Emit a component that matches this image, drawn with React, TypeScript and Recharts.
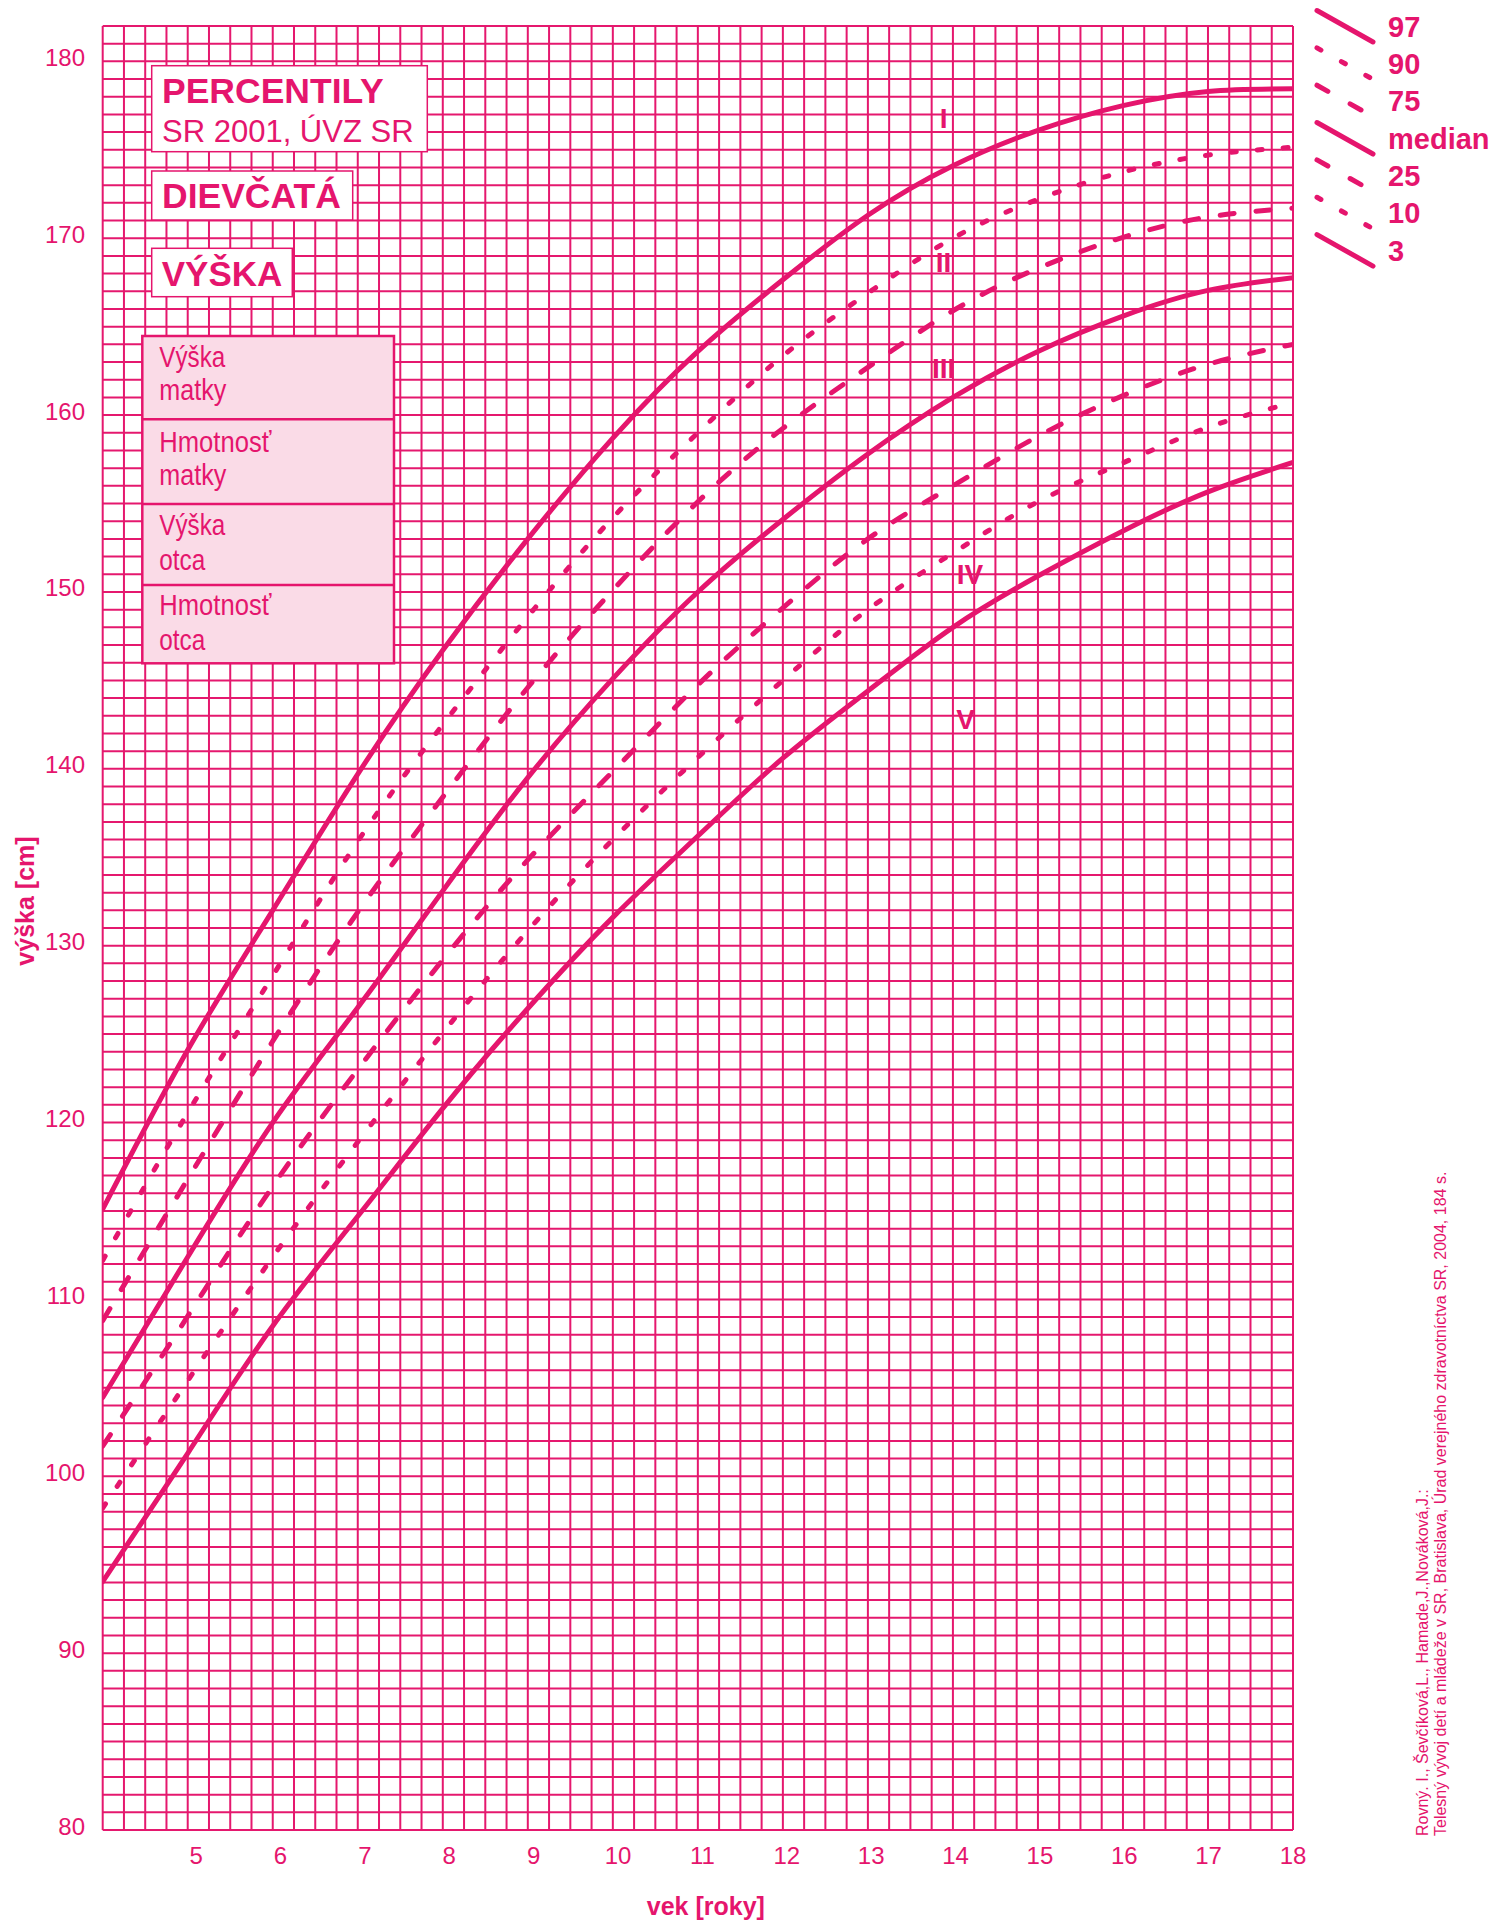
import React from 'react'
import {
  LineChart,
  Line,
  XAxis,
  YAxis,
  CartesianGrid,
  Legend,
  ReferenceDot,
} from 'recharts'

const PINK = '#e5156d'
const GRID_PINK = '#e5186e'
const TABLE_FILL = '#fadbe7'
const FONT = '"Liberation Sans", Arial, sans-serif'

// age in years
const AGES = [4, 5, 6, 7, 8, 9, 10, 11, 12, 13, 14, 15, 16, 17, 18]
// height in cm
const P97 = [115.1, 124.1, 132.0, 139.7, 146.7, 153.0, 158.7, 163.6, 167.65, 171.3, 174.1, 176.1, 177.5, 178.3, 178.45]
const P90 = [112.2, 120.55, 128.3, 135.9, 142.5, 148.6, 154.2, 159.0, 163.35, 166.9, 170.0, 172.2, 173.75, 174.7, 175.15]
const P75 = [108.8, 116.8, 124.6, 131.9, 138.4, 144.6, 150.1, 155.1, 159.25, 162.7, 165.9, 168.3, 170.05, 171.2, 171.7]
const P50 = [104.45, 112.4, 120.0, 126.5, 133.1, 139.5, 145.1, 150.0, 154.1, 157.8, 161.0, 163.6, 165.6, 167.05, 167.77]
const P25 = [101.7, 109.05, 116.4, 123.0, 129.2, 134.85, 139.85, 144.75, 149.1, 153.0, 156.0, 158.8, 161.1, 162.87, 164.0]
const P10 = [98.2, 105.4, 112.4, 118.9, 125.06, 130.85, 136.0, 140.65, 145.0, 149.0, 152.2, 155.1, 157.3, 159.3, 160.7]
const P3 = [94.04, 101.3, 108.5, 114.7, 120.8, 126.45, 131.6, 136.2, 140.6, 144.4, 148.0, 150.9, 153.45, 155.66, 157.32]

const X_TICKS = [5, 6, 7, 8, 9, 10, 11, 12, 13, 14, 15, 16, 17, 18]
const Y_TICKS = [80, 90, 100, 110, 120, 130, 140, 150, 160, 170, 180]

// roman numerals for the channels between the curves
const ROMAN = ['I', 'II', 'III', 'IV', 'V']
const ROMAN_AGE = [13.89, 13.89, 13.89, 14.2, 14.15]
const ROMAN_CM = [176.75, 168.65, 162.65, 151.0, 142.8]

// parents' table: row texts and the width each is set to
const TABLE_LINES = ['Výška', 'matky', 'Hmotnosť', 'matky', 'Výška', 'otca', 'Hmotnosť', 'otca']
const TABLE_WIDTHS = [66, 67, 112, 67, 66, 46, 112, 46]
const TABLE_BASELINES = [366.7, 400, 451.7, 485, 535, 570, 615, 650]

// fine grid: every 3 months and every centimetre
const GRID_AGE = Array.from({ length: 57 }, (_, i) => 4 + i * 0.25)
const GRID_CM = Array.from({ length: 103 }, (_, i) => 80 + i)

const DASHED = '14 22'
const DOTTED = '5 21'

const SERIES = [
  { key: 'p97', label: '97', dash: undefined, legendDash: undefined },
  { key: 'p90', label: '90', dash: DOTTED, legendDash: '4.5 23.5' },
  { key: 'p75', label: '75', dash: DASHED, legendDash: '12.5 25.5' },
  { key: 'p50', label: 'median', dash: undefined, legendDash: undefined },
  { key: 'p25', label: '25', dash: DASHED, legendDash: '12.5 25.5' },
  { key: 'p10', label: '10', dash: DOTTED, legendDash: '4.5 23.5' },
  { key: 'p3', label: '3', dash: undefined, legendDash: undefined },
]

const data = AGES.map((age, i) => ({
  age,
  p97: P97[i],
  p90: P90[i],
  p75: P75[i],
  p50: P50[i],
  p25: P25[i],
  p10: P10[i],
  p3: P3[i],
}))

const XTick = ({ x, y, payload }: any) => (
  <text
    x={x + (18 - payload.value) * 0.65}
    y={y + 25}
    textAnchor="middle"
    dominantBaseline="central"
    fill={PINK}
    fontSize={24}
    fontFamily={FONT}
  >
    {payload.value}
  </text>
)

const YTick = ({ x, y, payload }: any) => (
  <text x={x - 17.7} y={y - 4} textAnchor="end" dominantBaseline="central" fill={PINK} fontSize={24} fontFamily={FONT}>
    {payload.value}
  </text>
)

const PercentileLegend = () => (
  <svg width={191} height={275}>
    {SERIES.map((s, i) => {
      const cy = 26.5 + i * 37.35
      return (
        <g key={s.key}>
          <line
            x1={7}
            y1={cy - 16}
            x2={63}
            y2={cy + 15.5}
            stroke={PINK}
            strokeWidth={5}
            strokeLinecap="round"
            strokeDasharray={s.legendDash}
          />
          <text x={78} y={cy} dominantBaseline="central" fontSize={29} fontWeight="bold" fill={PINK} fontFamily={FONT}>
            {s.label}
          </text>
        </g>
      )
    })}
  </svg>
)

// boxes with the title and the parents' table, drawn over the grid
const Overlay = () => (
  <svg
    width={1501}
    height={1920}
    style={{ position: 'absolute', left: 0, top: 0, pointerEvents: 'none' }}
  >
    <rect x={151.7} y={65.7} width={275.6} height={86} fill="#fff" stroke={PINK} strokeWidth={1.5} />
    <text x={162} y={103.3} fontSize={35.5} fontWeight="bold" fill={PINK} fontFamily={FONT}>PERCENTILY</text>
    <text x={162} y={141.7} fontSize={31} fill={PINK} fontFamily={FONT}>SR 2001, ÚVZ SR</text>

    <rect x={151.7} y={171} width={201} height={49} fill="#fff" stroke={PINK} strokeWidth={1.5} />
    <text x={162} y={208.3} fontSize={35.5} fontWeight="bold" fill={PINK} fontFamily={FONT}>DIEVČATÁ</text>

    <rect x={151.7} y={248.3} width={140.6} height={48.4} fill="#fff" stroke={PINK} strokeWidth={1.5} />
    <text x={161.7} y={285.7} fontSize={35} fontWeight="bold" fill={PINK} fontFamily={FONT}>VÝŠKA</text>

    <rect x={142.3} y={336} width={251.7} height={327.3} fill={TABLE_FILL} stroke={PINK} strokeWidth={2.5} />
    <line x1={142.3} x2={394} y1={419.3} y2={419.3} stroke={PINK} strokeWidth={2.5} />
    <line x1={142.3} x2={394} y1={504} y2={504} stroke={PINK} strokeWidth={2.5} />
    <line x1={142.3} x2={394} y1={585} y2={585} stroke={PINK} strokeWidth={2.5} />
    <g fontSize={29} fill={PINK} fontFamily={FONT}>
      {TABLE_LINES.map((t, i) => (
        <text key={i} x={159.3} y={TABLE_BASELINES[i]} textLength={TABLE_WIDTHS[i]} lengthAdjust="spacingAndGlyphs">
          {t}
        </text>
      ))}
    </g>

    <g transform="translate(1428, 1836) rotate(-90)" fontSize={16} fill={PINK} fontFamily={FONT}>
      <text x={0} y={0}>Rovný. I., Ševčíková,L., Hamade,J.,Nováková,J.:</text>
      <text x={0} y={18.4}>Telesný vývoj detí a mládeže v SR, Bratislava, Úrad verejného zdravotníctva SR, 2004, 184 s.</text>
    </g>
  </svg>
)

export default function App() {
  return (
    <div style={{ position: 'absolute', left: 0, top: 0, width: 1501, height: 1920, background: '#fff' }}>
      <LineChart width={1501} height={1920} data={data} margin={{ top: 26, right: 208, bottom: 0, left: 0 }}>
        <CartesianGrid
          horizontalValues={GRID_CM}
          verticalValues={GRID_AGE}
          stroke={GRID_PINK}
          strokeWidth={2}
          strokeOpacity={1}
        />
        <XAxis
          type="number"
          dataKey="age"
          domain={[4, 18]}
          ticks={X_TICKS}
          interval={0}
          height={90}
          tickSize={0}
          tickMargin={0}
          axisLine={false}
          tickLine={false}
          tick={XTick}
          allowDataOverflow
          label={{
            content: (props: any) => {
              const vb = props.viewBox
              return (
                <text
                  x={vb.x + vb.width / 2 + 8}
                  y={vb.y + 76}
                  textAnchor="middle"
                  dominantBaseline="central"
                  fontSize={25}
                  fontWeight="bold"
                  fill={PINK}
                  fontFamily={FONT}
                >
                  vek [roky]
                </text>
              )
            },
          }}
        />
        <YAxis
          type="number"
          domain={[80, 182]}
          ticks={Y_TICKS}
          interval={0}
          width={102.7}
          tickSize={0}
          tickMargin={0}
          axisLine={false}
          tickLine={false}
          tick={YTick}
          allowDataOverflow
          label={{
            content: (props: any) => {
              const vb = props.viewBox
              const cx = vb.x + 25
              const cy = vb.y + vb.height / 2 - 27
              return (
                <text
                  x={cx}
                  y={cy}
                  transform={`rotate(-90, ${cx}, ${cy})`}
                  textAnchor="middle"
                  dominantBaseline="central"
                  fontSize={25}
                  fontWeight="bold"
                  fill={PINK}
                  fontFamily={FONT}
                >
                  výška [cm]
                </text>
              )
            },
          }}
        />
        {SERIES.map((s) => (
          <Line
            key={s.key}
            type="natural"
            dataKey={s.key}
            stroke={PINK}
            strokeWidth={5}
            strokeLinecap="round"
            strokeDasharray={s.dash}
            dot={false}
            activeDot={false}
            isAnimationActive={false}
          />
        ))}
        {ROMAN.map((r, i) => (
          <ReferenceDot
            key={r}
            x={ROMAN_AGE[i]}
            y={ROMAN_CM[i]}
            r={0}
            shape={(p: any) => (
              <text
                x={p.cx}
                y={p.cy}
                textAnchor="middle"
                dominantBaseline="central"
                fontSize={28}
                fontWeight="bold"
                fill={PINK}
                fontFamily={FONT}
              >
                {r}
              </text>
            )}
          />
        ))}
        <Legend
          layout="horizontal"
          verticalAlign="middle"
          align="center"
          content={PercentileLegend}
          wrapperStyle={{ position: 'absolute', left: 1310, top: 0, width: 191, height: 275 }}
        />
      </LineChart>
      <Overlay />
    </div>
  )
}
